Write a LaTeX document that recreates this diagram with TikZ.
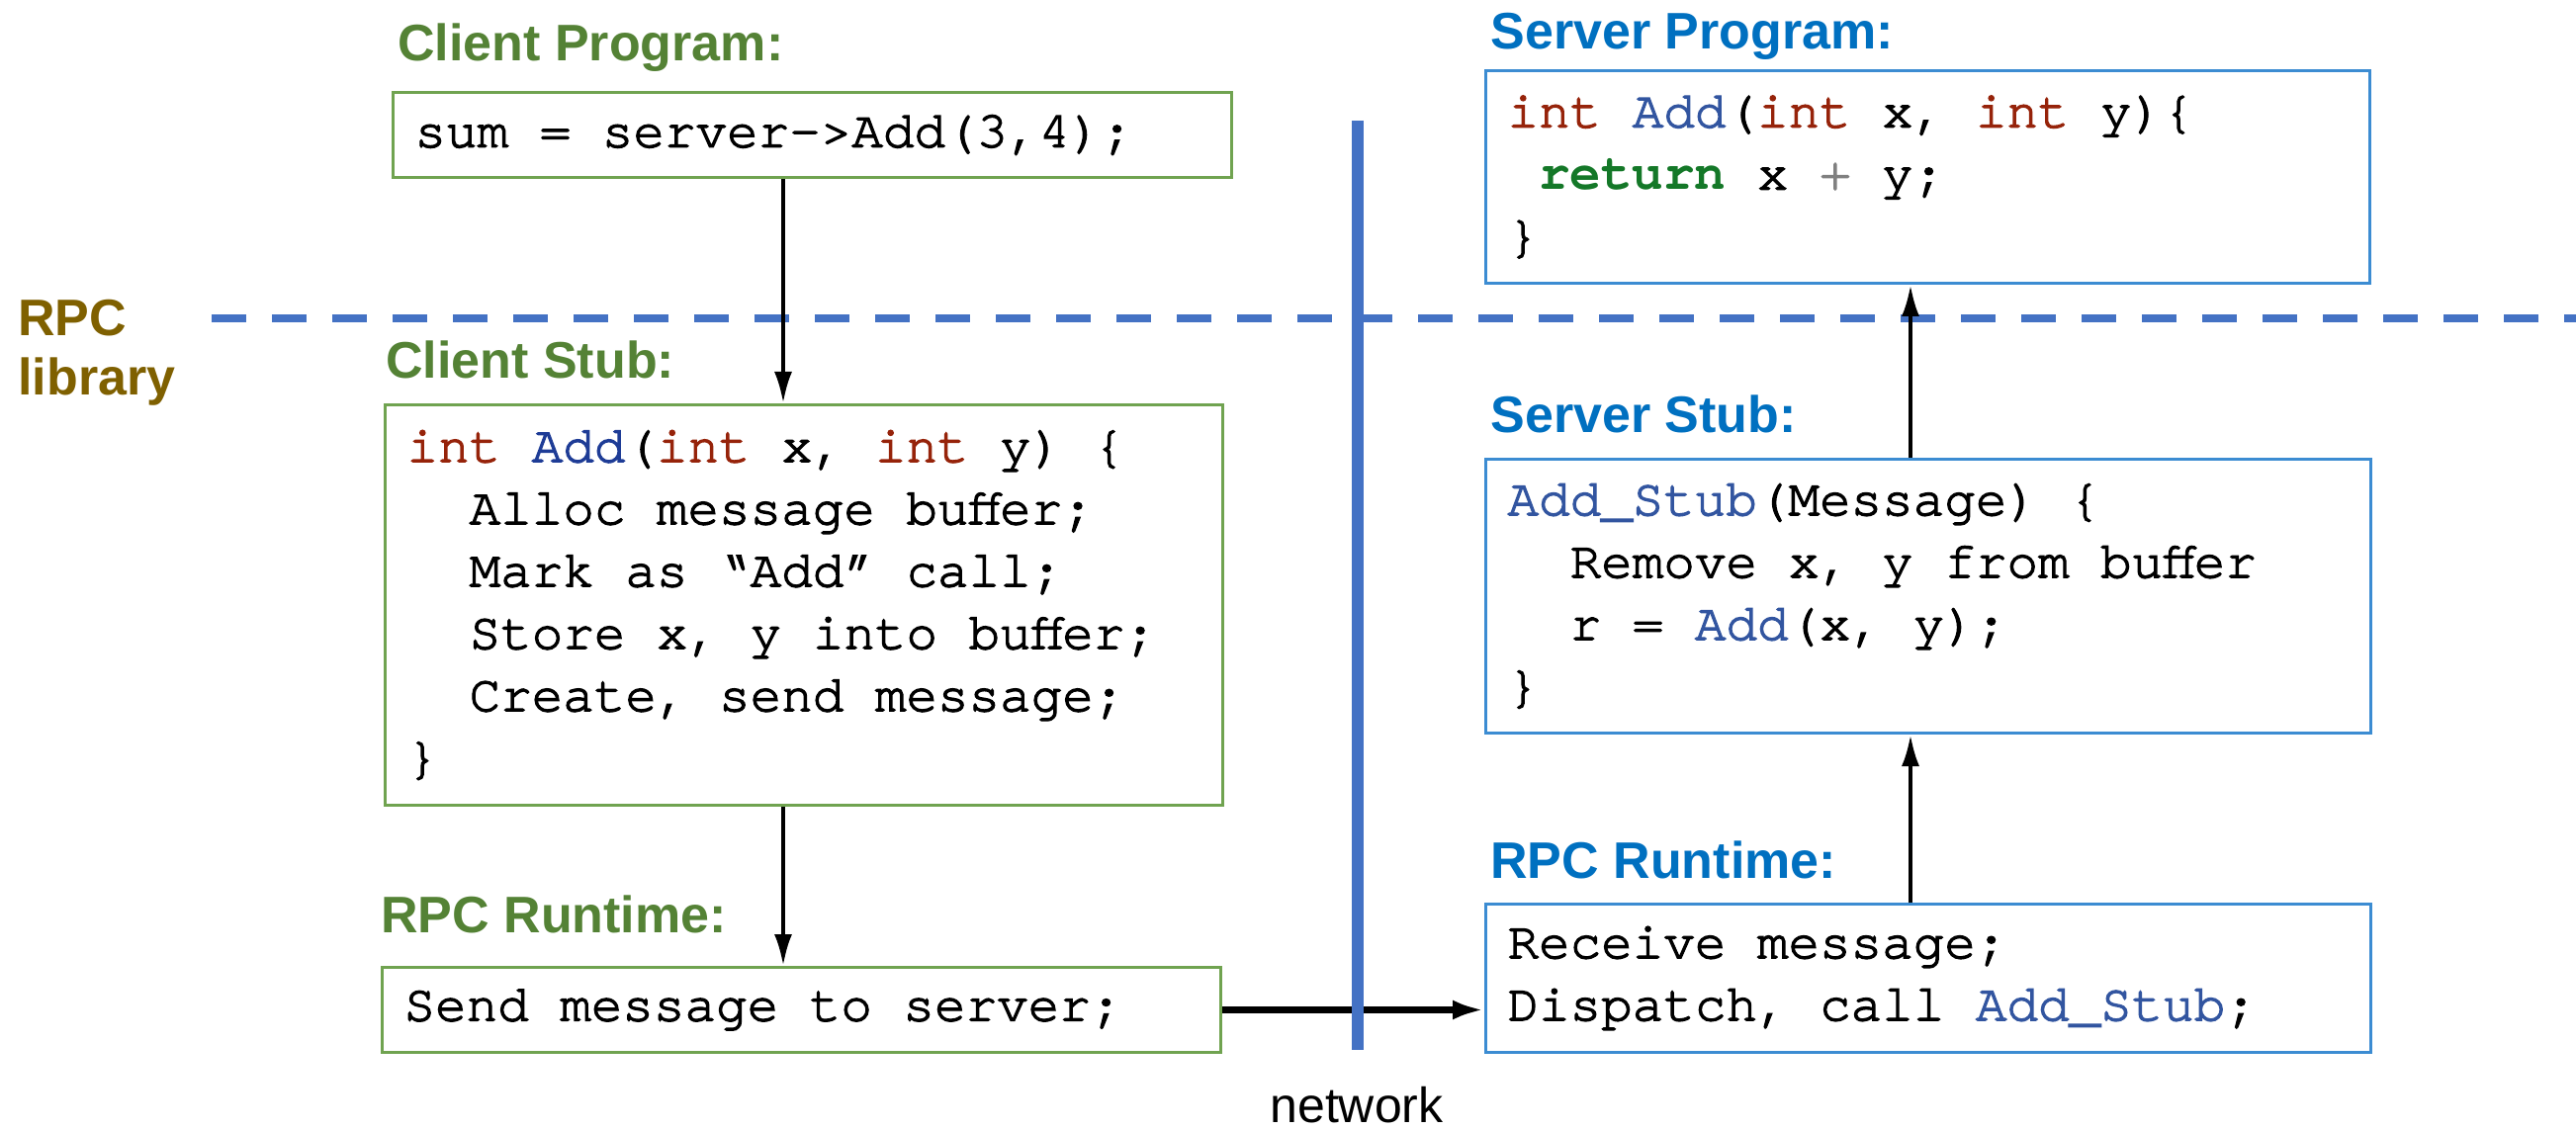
\documentclass[tikz,border=0pt]{standalone}
\usepackage{fontspec}
\setmainfont{Liberation Sans}
\newfontfamily\codefont{texgyrecursor}[Extension=.otf,UprightFont=*-regular,BoldFont=*-bold,UprightFeatures={FakeBold=2.5}]
\usetikzlibrary{arrows.meta}
\definecolor{lblgreen}{RGB}{84,130,53}
\definecolor{lblblue}{RGB}{0,112,192}
\definecolor{boxgreen}{RGB}{112,163,80}
\definecolor{boxblue}{RGB}{60,140,210}
\definecolor{netblue}{RGB}{68,114,196}
\definecolor{libolive}{RGB}{127,96,0}
\definecolor{kwred}{RGB}{150,35,10}
\definecolor{fnblueA}{RGB}{30,60,150}
\definecolor{fnblueB}{RGB}{50,85,160}
\definecolor{retgreen}{RGB}{20,120,40}
\definecolor{plusgray}{RGB}{128,128,128}
\newcommand\kw[1]{\textcolor{kwred}{#1}}
\newcommand\fnA[1]{\textcolor{fnblueA}{#1}}
\newcommand\fnB[1]{\textcolor{fnblueB}{#1}}
\newcommand\ind{\phantom{xx}}
\newlength\codesp
\setlength\codesp{15.78pt}
\newcommand\codesetup{\codefont\fontsize{26.3}{31.5}\selectfont}
\newcommand\fixspaces{\spaceskip\codesp\xspaceskip\codesp}
\tikzset{
  lbl/.style={inner sep=0pt, anchor=base west, font=\fontsize{26}{30}\selectfont\bfseries},
  glbl/.style={lbl, text=lblgreen},
  blbl/.style={lbl, text=lblblue},
  codebox/.style={font=\codesetup, align=left, execute at begin node=\fixspaces,
    inner xsep=11pt, inner ysep=0pt, anchor=north west, line width=1.5pt},
  gbox/.style={codebox, draw=boxgreen},
  bbox/.style={codebox, draw=boxblue},
  arr/.style={draw=black, line width=2pt, -{Latex[length=16pt,width=9pt]}},
  netline/.style={draw=netblue, line width=6pt},
  libline/.style={draw=netblue, line width=4pt, dash pattern=on 17.5pt off 13pt},
}
\begin{document}
\begin{tikzpicture}[x=0.5pt,y=-0.5pt]
\useasboundingbox (0,0) rectangle (2605,1143);
\fill[white] (0,0) rectangle (2605,1143);

% RPC library boundary
\coordinate (dl) at (214,322);
\coordinate (dr) at (2605,322);
\draw[libline] (dl) -- (dr);
\node[lbl, text=libolive, align=left] (lib) at (18,400) {RPC\\library};

% labels
\node[glbl] (cpl) at (402,62) {Client Program:};
\node[glbl] (csl) at (390,383) {Client Stub:};
\node[glbl] (crl) at (385,943) {RPC Runtime:};
\node[blbl] (spl) at (1507,50) {Server Program:};
\node[blbl] (ssl) at (1507,438) {Server Stub:};
\node[blbl] (srl) at (1507,888) {RPC Runtime:};

% client boxes
\node[gbox, minimum width=424pt, text width=402pt, minimum height=43pt] (cp) at (396,92)
  {sum = server->Add(3,4);};
\node[gbox, minimum width=423.5pt, text width=401.5pt, minimum height=202.5pt] (cs) at (388,408)
  {\kw{int} \fnA{Add}(\kw{int} x, \kw{int} y) \{\\
   \ind Alloc message buffer;\\
   \ind Mark as “Add” call;\\
   \ind Store x, y into buffer;\\
   \ind Create, send message;\\
   \}};
\node[gbox, minimum width=424pt, text width=402pt, minimum height=43pt] (send) at (385,977)
  {Send message to server;};

% server boxes
\node[bbox, minimum width=447pt, text width=425pt, minimum height=107.5pt] (sp) at (1501,70)
  {\kw{int} \fnB{Add}(\kw{int} x, \kw{int} y)\{\\
   \phantom{x}\textbf{\textcolor{retgreen}{return}} x \textcolor{plusgray}{+} y;\\
   \}};
\node[bbox, minimum width=447.5pt, text width=425.5pt, minimum height=138.5pt] (ss) at (1501,463)
  {\fnB{Add\_Stub}(Message) \{\\
   \ind Remove x, y from buffer\\
   \ind r = \fnB{Add}(x, y);\\
   \}};
\node[bbox, minimum width=447.5pt, text width=425.5pt, minimum height=75pt] (rcv) at (1501,913)
  {Receive message;\\
   Dispatch, call \fnB{Add\_Stub};};

% connectors
\coordinate (lx) at (792,0);
\coordinate (rx) at (1932,0);
\draw[arr] (cp.south -| lx) -- (cs.north -| lx);
\draw[arr] (cs.south -| lx) -- (send.north -| lx);
\draw[arr, line width=3.2pt, -{Latex[length=16pt,width=10pt]}] (send.east) -- (send.east -| rcv.west);
\draw[arr] (rcv.north -| rx) -- (ss.south -| rx);
\draw[arr] (ss.north -| rx) -- (sp.south -| rx);

% network
\coordinate (nt) at (1373,122);
\coordinate (nb) at (1373,1062);
\draw[netline] (nt) -- (nb);
\node[inner sep=0pt, anchor=base, font=\fontsize{25}{30}\selectfont] (net) at (1372,1135) {network};
\end{tikzpicture}
\end{document}
